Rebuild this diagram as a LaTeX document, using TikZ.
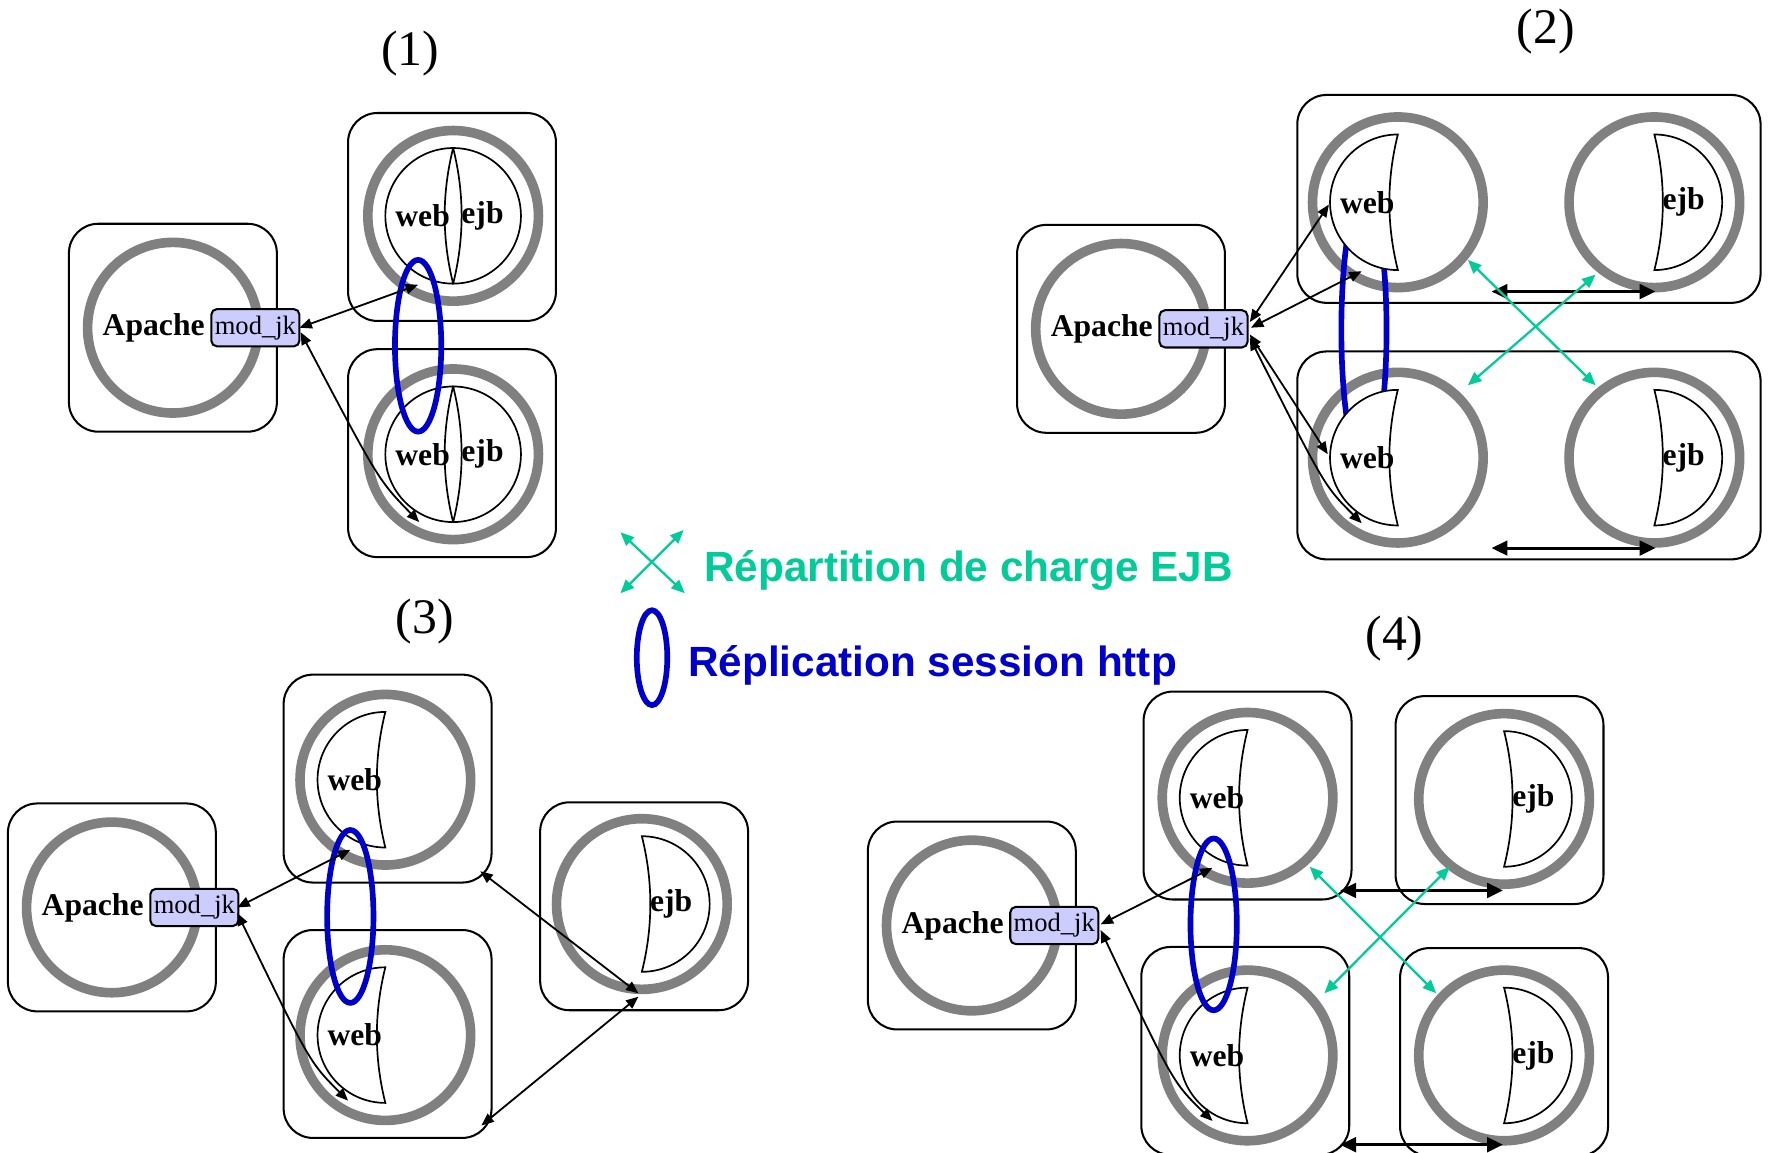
\documentclass[tikz,border=0pt]{standalone}
\usepackage{fontspec}
\setmainfont{Liberation Serif}
\newfontfamily\legfont{Liberation Sans}
\usetikzlibrary{arrows.meta}
\definecolor{ringgray}{RGB}{128,128,128}
\definecolor{modfill}{RGB}{204,204,255}
\definecolor{repblue}{RGB}{0,0,204}
\definecolor{lbgreen}{RGB}{0,204,153}
\tikzset{
 hostbox/.style={draw, line width=1.8pt, rounded corners=26pt, minimum width=184pt, minimum height=184pt, inner sep=0pt},
 ring/.style={draw=ringgray, line width=8.5pt, circle, minimum size=151pt, inner sep=0pt},
 compshape/.style={draw, fill=white, line width=1.5pt},
 lbl/.style={font=\bfseries\fontsize{28}{30}\selectfont, inner sep=0pt},
 modjk/.style={draw, fill=modfill, line width=1.8pt, rounded corners=5pt, minimum width=78pt, minimum height=33pt, inner sep=0pt, font=\fontsize{23.5}{26}\selectfont},
 rep/.style={draw=repblue, line width=5pt},
 conn/.style={<->, >={Triangle[length=11pt,width=9pt]}, line width=1.6pt},
 ejbsync/.style={<->, >={Triangle[length=14pt,width=13pt]}, line width=2.6pt},
 lb/.style={<->, >={Triangle[length=12pt,width=10pt]}, line width=2pt, color=lbgreen},
 title/.style={font=\fontsize{44}{48}\selectfont, inner sep=0pt},
 legtext/.style={font=\legfont\bfseries\fontsize{37.4}{40}\selectfont, inner sep=0pt, anchor=base west},
}
\newcommand{\apacheunit}[3]{%
 \node[hostbox] (#1box) at (#2,#3) {};
 \node[ring] (#1ring) at (#2,#3) {};
 \node[lbl] (#1txt) at ({#2-17},#3) {Apache};
 \node[modjk] (#1mod) at ({#2+73},#3) {mod\_jk};}
\newcommand{\webpart}[3]{%
 \draw[compshape] (#2,{#3-60}) arc[start angle=90,end angle=270,radius=60pt] .. controls ({#2-10},{#3+20}) and ({#2-10},{#3-20}) .. (#2,{#3-60}) -- cycle;
 \node[lbl] (#1) at ({#2-27},#3) {web};}
\newcommand{\ejbpart}[3]{%
 \draw[compshape] (#2,{#3-60}) arc[start angle=90,end angle=-90,radius=60pt] .. controls ({#2+10},{#3+20}) and ({#2+10},{#3-20}) .. (#2,{#3-60}) -- cycle;
 \node[lbl] (#1) at ({#2+26},#3) {ejb};}
\begin{document}
\begin{tikzpicture}[x=1pt,y=-1pt]
\clip (0,0) rectangle (1569,1020);
\fill[white] (0,0) rectangle (1569,1020);
% ---------- titles
\node[title] (t1) at (363,47) {(1)};
\node[title] (t2) at (1368,28) {(2)};
\node[title] (t3) at (376,550) {(3)};
\node[title] (t4) at (1234,565) {(4)};
% ---------- panel 1
\apacheunit{pa}{153}{290}
\node[hostbox] (pasrvA) at (400,192) {};
\node[ring] (paringA) at (401,191) {};
\node[hostbox] (pasrvB) at (400,401) {};
\node[ring] (paringB) at (401,402) {};
\webpart{pawebA}{401}{191}
\ejbpart{paejbA}{401}{191}
\webpart{pawebB}{401}{402}
\ejbpart{paejbB}{401}{402}
\draw[rep] (370,306) ellipse[x radius=20.5pt,y radius=76pt];
\coordinate (pam1) at (265,290);
\coordinate (pawa) at (370,252);
\coordinate (pam2) at (266,294);
\coordinate (pawb) at (371,462);
\draw[conn] (pam1) -- (pawa);
\draw[conn] (pam2) .. controls (335,425) .. (pawb);
% ---------- panel 2
\apacheunit{pb}{992}{291}
\node[hostbox, minimum width=410pt] (pbtop) at (1353,176) {};
\node[hostbox, minimum width=410pt] (pbbot) at (1353,403) {};
\node[ring] (pbr1) at (1237,179) {};
\node[ring] (pbr2) at (1464,179) {};
\node[ring] (pbr3) at (1237,405) {};
\node[ring] (pbr4) at (1464,405) {};
\draw[rep] (1207,292) ellipse[x radius=20pt,y radius=120pt];
\webpart{pbweb1}{1237}{179}
\ejbpart{pbejb1}{1464}{179}
\webpart{pbweb2}{1237}{405}
\ejbpart{pbejb2}{1464}{405}
\coordinate (pbs1) at (1320,258);
\coordinate (pbe1) at (1465,258);
\coordinate (pbs2) at (1320,485);
\coordinate (pbe2) at (1465,485);
\draw[ejbsync] (pbs1) -- (pbe1);
\draw[ejbsync] (pbs2) -- (pbe2);
\coordinate (pbg1) at (1299,230);
\coordinate (pbg2) at (1412,341);
\coordinate (pbg3) at (1412,243);
\coordinate (pbg4) at (1299,341);
\draw[lb] (pbg1) -- (pbg2);
\draw[lb] (pbg3) -- (pbg4);
\coordinate (pbm1) at (1106,285);
\coordinate (pbw1) at (1176,181);
\coordinate (pbm2) at (1107,290);
\coordinate (pbw2) at (1205,240);
\coordinate (pbm3) at (1106,296);
\coordinate (pbw3) at (1175,402);
\coordinate (pbm4) at (1106,299);
\coordinate (pbw4) at (1205,463);
\draw[conn] (pbm1) -- (pbw1);
\draw[conn] (pbm2) -- (pbw2);
\draw[conn] (pbm3) -- (pbw3);
\draw[conn] (pbm4) .. controls (1172,430) .. (pbw4);
% ---------- panel 3
\apacheunit{pc}{99}{803}
\node[hostbox] (pcbox1) at (343,689) {};
\node[ring] (pcr1) at (341,690) {};
\node[hostbox] (pcbox2) at (343,915) {};
\node[ring] (pcr2) at (341,916) {};
\node[hostbox] (pcbox3) at (570,802) {};
\node[ring] (pcr3) at (568,800) {};
\webpart{pcweb1}{341}{690}
\webpart{pcweb2}{341}{916}
\ejbpart{pcejb}{568}{800}
\draw[rep] (310,811) ellipse[x radius=20.5pt,y radius=76.5pt];
\coordinate (pcm1) at (210,803);
\coordinate (pcw1) at (310,752);
\coordinate (pcm2) at (210,808);
\coordinate (pcw2) at (308,974);
\coordinate (pcb1) at (425,771);
\coordinate (pcj1) at (565,879);
\coordinate (pcb2) at (426,996);
\coordinate (pcj2) at (565,882);
\draw[conn] (pcm1) -- (pcw1);
\draw[conn] (pcm2) .. controls (274,940) .. (pcw2);
\draw[conn] (pcb1) -- (pcj1);
\draw[conn] (pcb2) -- (pcj2);
% ---------- panel 4
\apacheunit{pd}{860}{819}
\node[hostbox] (pdbox1) at (1104,704) {};
\node[ring] (pdr1) at (1104,706) {};
\node[hostbox] (pdbox2) at (1327,708) {};
\node[ring] (pdr2) at (1331,707) {};
\node[hostbox] (pdbox3) at (1102,930) {};
\node[ring] (pdr3) at (1104,934) {};
\node[hostbox] (pdbox4) at (1331,931) {};
\node[ring] (pdr4) at (1331,934) {};
\webpart{pdweb1}{1104}{706}
\ejbpart{pdejb1}{1331}{707}
\webpart{pdweb2}{1104}{934}
\ejbpart{pdejb2}{1331}{934}
\draw[rep] (1074,818) ellipse[x radius=20.5pt,y radius=76pt];
\coordinate (pdm1) at (974,818);
\coordinate (pdw1) at (1073,768);
\coordinate (pdm2) at (974,823);
\coordinate (pdw2) at (1073,992);
\draw[conn] (pdm1) -- (pdw1);
\draw[conn] (pdm2) .. controls (1038,958) .. (pdw2);
\coordinate (pds1) at (1186,788);
\coordinate (pde1) at (1330,788);
\coordinate (pds2) at (1186,1013);
\coordinate (pde2) at (1330,1013);
\draw[ejbsync] (pds1) -- (pde1);
\draw[ejbsync] (pds2) -- (pde2);
\coordinate (pdg1) at (1159,767);
\coordinate (pdg2) at (1271,879);
\coordinate (pdg3) at (1283,767);
\coordinate (pdg4) at (1172,879);
\draw[lb] (pdg1) -- (pdg2);
\draw[lb] (pdg3) -- (pdg4);
% ---------- legend
\coordinate (lg1) at (549,471);
\coordinate (lg2) at (606,525);
\coordinate (lg3) at (605,469);
\coordinate (lg4) at (549,525);
\draw[lb] (lg1) -- (lg2);
\draw[lb] (lg3) -- (lg4);
\node[legtext, text=lbgreen] (lgtxt1) at (623,515) {Répartition de charge EJB};
\draw[rep] (577,582) ellipse[x radius=13.5pt,y radius=42pt];
\node[legtext, text=repblue] (lgtxt2) at (609,599) {Réplication session http};
\end{tikzpicture}
\end{document}
